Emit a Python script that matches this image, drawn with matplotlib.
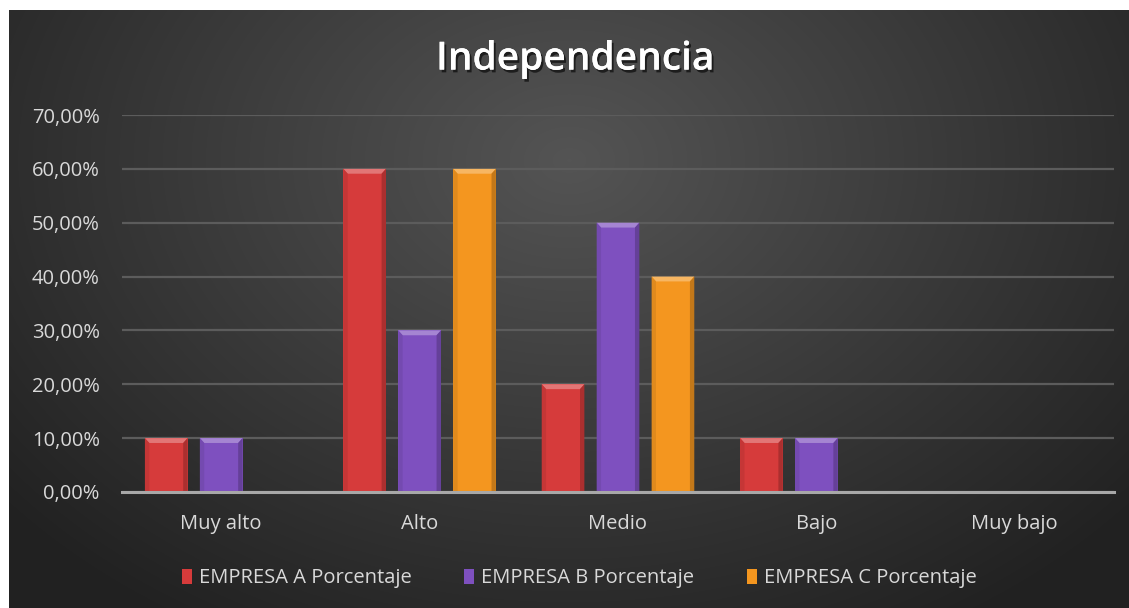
import numpy as np
import matplotlib.pyplot as plt
from matplotlib.patches import Polygon, Patch
from matplotlib import patheffects as pe
from matplotlib.ticker import FuncFormatter

categorias = ["Muy alto", "Alto", "Medio", "Bajo", "Muy bajo"]
empresa_a = [0.10, 0.60, 0.20, 0.10, 0.0]
empresa_b = [0.10, 0.30, 0.50, 0.10, 0.0]
empresa_c = [0.0, 0.60, 0.40, 0.0, 0.0]
series = ["EMPRESA A Porcentaje", "EMPRESA B Porcentaje", "EMPRESA C Porcentaje"]
colores = ["#d63b3b", "#7e50bf", "#f4961f"]

plt.rcParams['font.family'] = ['Open Sans', 'DejaVu Sans']

fig = plt.figure(figsize=(11.29, 6.08), dpi=100)
fig.patch.set_facecolor("white")

# fondo oscuro con degradado radial
bg = fig.add_axes([9 / 1129, 0, 1120 / 1129, 598 / 608])
bg.set_axis_off()
yy, xx = np.mgrid[0:598, 0:1120]
d = np.sqrt(((xx - 560) / 700.0) ** 2 + ((yy - 150) / 520.0) ** 2)
val = np.clip(0.33 - 0.19 * d, 0.13, 0.34)
img = np.dstack([val, val, val])
bg.imshow(img, aspect="auto", extent=[0, 1, 0, 1], origin="upper")
bg.set_xlim(0, 1)
bg.set_ylim(0, 1)

ax = fig.add_axes([122 / 1129, 116 / 608, (1114 - 122) / 1129, (493 - 116) / 608])
ax.set_facecolor("none")

x = np.arange(len(categorias))
ancho = 0.215
paso = 0.277


def tono(c, f):
    r, g, b = [int(c[i:i + 2], 16) / 255 for i in (1, 3, 5)]
    if f >= 1:
        return tuple(v + (1 - v) * (f - 1) for v in (r, g, b))
    return tuple(v * f for v in (r, g, b))


bx = 0.022
by = 0.009
for i, (vals, col) in enumerate(zip([empresa_a, empresa_b, empresa_c], colores)):
    pos = x + (i - 1) * paso
    ax.bar(pos, vals, width=ancho, color=col, zorder=3, linewidth=0)
    for p, h in zip(pos, vals):
        if h <= 0:
            continue
        x0, x1 = p - ancho / 2, p + ancho / 2
        ax.add_patch(Polygon([(x0, h), (x1, h), (x1 - bx, h - by), (x0 + bx, h - by)],
                             closed=True, color=tono(col, 1.3), lw=0, zorder=4))
        ax.add_patch(Polygon([(x1 - bx, h - by), (x1, h), (x1, 0), (x1 - bx, 0)],
                             closed=True, color=tono(col, 0.8), lw=0, zorder=4))
        ax.add_patch(Polygon([(x0, h), (x0 + bx, h - by), (x0 + bx, 0), (x0, 0)],
                             closed=True, color=tono(col, 0.92), lw=0, zorder=4))

ax.set_xlim(-0.5, len(categorias) - 0.5)
ax.set_ylim(0, 0.70)
ax.set_yticks(np.arange(0, 0.71, 0.10))
ax.yaxis.set_major_formatter(FuncFormatter(lambda v, _: f"{v * 100:.2f}%".replace(".", ",")))
ax.set_xticks(x)
ax.set_xticklabels(categorias)
ax.tick_params(axis="both", length=0, colors="#d9d9d9", labelsize=14.5)
ax.tick_params(axis="y", pad=16)
ax.tick_params(axis="x", pad=16)
ax.grid(axis="y", color="#5c5c5c", linewidth=1.6, zorder=0)
for s in ["top", "right", "left"]:
    ax.spines[s].set_visible(False)
ax.spines["bottom"].set_color("#a8a8a8")
ax.spines["bottom"].set_linewidth(2.2)
ax.spines["bottom"].set_zorder(5)

fig.text(0.5095, 0.902, "Independencia", ha="center", va="center", color="white",
         fontsize=28, fontweight="semibold", family=['Open Sans', 'DejaVu Sans'],
         path_effects=[pe.withSimplePatchShadow(offset=(1.5, -2), shadow_rgbFace="black", alpha=0.6),
                       pe.Normal()])

handles = [Patch(facecolor=c, edgecolor="none") for c in colores]
leg = fig.legend(handles, series, loc="center", bbox_to_anchor=(0.513, 0.049), ncol=3,
                 frameon=False, fontsize=14.5, labelcolor="#d9d9d9", handlelength=0.5,
                 handleheight=0.75, handletextpad=0.35, columnspacing=2.6)

fig.savefig("out.png", dpi=100)
